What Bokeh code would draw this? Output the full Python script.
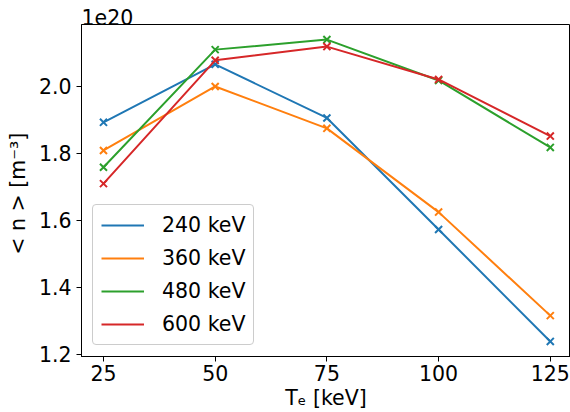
from bokeh.plotting import figure
from bokeh.models import Range1d, FixedTicker, Legend, LegendItem
from bokeh.embed import file_html
from bokeh.resources import INLINE

# Data (density in units of 1e20 m^-3)
te_kev = [25, 50, 75, 100, 125]
series_labels = ["240 keV", "360 keV", "480 keV", "600 keV"]
n_240 = [1.893, 2.066, 1.906, 1.573, 1.239]
n_360 = [1.809, 2.000, 1.875, 1.625, 1.316]
n_480 = [1.759, 2.110, 2.140, 2.018, 1.818]
n_600 = [1.710, 2.078, 2.119, 2.021, 1.852]
y_ticks = [1.2, 1.4, 1.6, 1.8, 2.0]
x_ticks = [25, 50, 75, 100, 125]

colors = ["#1f77b4", "#ff7f0e", "#2ca02c", "#d62728"]
FONT = "DejaVu Sans"
FS = "20.5px"

p = figure(width=570, height=412, output_backend="svg", toolbar_location=None,
           x_range=Range1d(20.08, 129.52), y_range=Range1d(1.194, 2.185),
           min_border_left=81, min_border_right=0, min_border_top=24,
           min_border_bottom=56)
p.background_fill_color = "white"
p.border_fill_color = "white"
p.outline_line_color = "black"
p.outline_line_alpha = 1.0
p.outline_line_width = 1
p.xgrid.visible = False
p.ygrid.visible = False

# offset text "1e20" as the title, left aligned over the frame
p.title.text = "1e20"
p.title.align = "left"
p.title.text_font = FONT
p.title.text_font_size = FS
p.title.text_font_style = "normal"
p.title.text_color = "black"
p.title.standoff = 0
p.title.offset = 0

for ax in (p.xaxis, p.yaxis):
    ax.axis_line_color = "black"
    ax.major_tick_line_color = "black"
    ax.minor_tick_line_color = None
    ax.major_tick_in = 0
    ax.major_tick_out = 5
    ax.major_label_text_font = FONT
    ax.major_label_text_font_size = FS
    ax.major_label_text_color = "black"
    ax.axis_label_text_font = FONT
    ax.axis_label_text_font_size = FS
    ax.axis_label_text_font_style = "normal"
    ax.axis_label_text_color = "black"

p.xaxis.ticker = FixedTicker(ticks=x_ticks)
p.yaxis.ticker = FixedTicker(ticks=y_ticks)
p.yaxis.major_label_overrides = {t: f"{t:.1f}" for t in y_ticks}
p.xaxis.axis_label = "Tₑ [keV]"
p.yaxis.axis_label = "< n >  [m⁻³]"
p.xaxis.major_label_standoff = 3
p.xaxis.axis_label_standoff = 2
p.yaxis.major_label_standoff = 5
p.yaxis.axis_label_standoff = 6

items = []
for lab, vals, c in zip(series_labels, [n_240, n_360, n_480, n_600], colors):
    r = p.line(te_kev, vals, line_color=c, line_width=2)
    p.scatter(te_kev, vals, marker="x", size=10, line_color=c, line_width=2)
    items.append(LegendItem(label=lab, renderers=[r]))

legend = Legend(items=items, location="bottom_left", margin=11)
legend.border_line_color = "#cccccc"
legend.border_line_alpha = 1.0
legend.background_fill_alpha = 0.8
legend.label_text_font = FONT
legend.label_text_font_size = FS
legend.label_text_color = "black"
legend.glyph_width = 43
legend.glyph_height = 22
legend.label_height = 22
legend.label_standoff = 18
legend.spacing = 9
legend.padding = 8
legend.border_radius = 4
p.add_layout(legend)

open("out.html", "w").write(file_html(p, INLINE))
